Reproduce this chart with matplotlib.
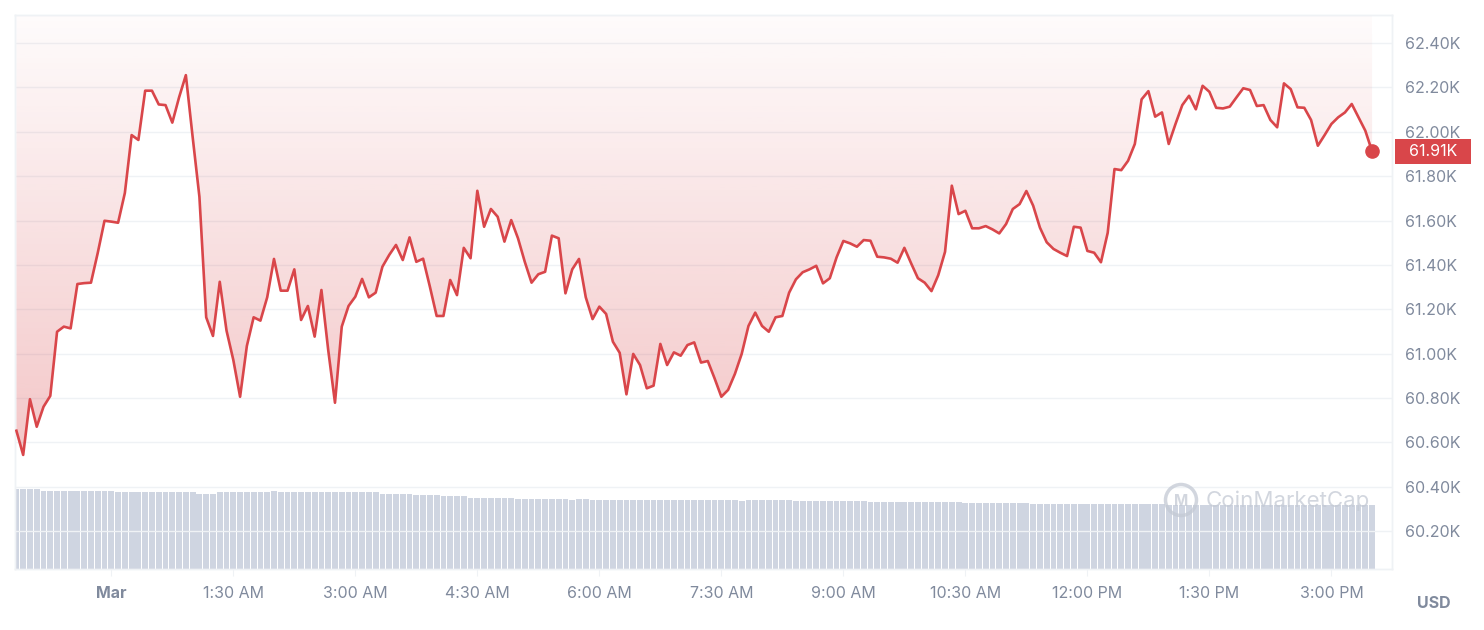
import numpy as np
import matplotlib.pyplot as plt
from matplotlib.patches import Polygon, Circle
from matplotlib.transforms import blended_transform_factory

plt.rcParams['font.family'] = ['Inter', 'DejaVu Sans']

# minutes after 00:00 Mar 1, one point every 5 minutes
minutes = np.arange(201) * 5 - 70

# BTC price (USD)
price = [60653, 60544, 60795, 60671, 60761, 60810, 61099, 61122, 61114, 61314,
         61318, 61320, 61454, 61599, 61595, 61590, 61724, 61985, 61963, 62185,
         62185, 62123, 62120, 62041, 62155, 62255, 61977, 61707, 61164, 61080,
         61324, 61104, 60972, 60806, 61035, 61164, 61149, 61254, 61427, 61284,
         61284, 61380, 61152, 61215, 61077, 61287, 61017, 60779, 61122, 61215,
         61257, 61337, 61254, 61275, 61392, 61445, 61490, 61422, 61524, 61414,
         61428, 61302, 61170, 61170, 61332, 61264, 61477, 61430, 61734, 61572,
         61652, 61617, 61505, 61602, 61520, 61414, 61320, 61358, 61369, 61532,
         61520, 61272, 61380, 61427, 61254, 61156, 61212, 61179, 61054, 61004,
         60817, 60999, 60949, 60844, 60856, 61044, 60949, 61006, 60991, 61039,
         61051, 60960, 60967, 60889, 60806, 60837, 60909, 60999, 61125, 61185,
         61125, 61099, 61164, 61170, 61275, 61335, 61367, 61380, 61396, 61317,
         61340, 61434, 61508, 61497, 61482, 61512, 61509, 61437, 61434, 61428,
         61410, 61477, 61407, 61340, 61320, 61282, 61354, 61459, 61757, 61629,
         61644, 61565, 61565, 61575, 61560, 61542, 61584, 61652, 61674, 61733,
         61667, 61568, 61502, 61472, 61455, 61440, 61572, 61568, 61463, 61455,
         61412, 61545, 61832, 61827, 61869, 61945, 62146, 62183, 62068, 62087,
         61945, 62035, 62120, 62162, 62101, 62207, 62180, 62108, 62105, 62113,
         62155, 62196, 62188, 62116, 62120, 62053, 62020, 62218, 62192, 62110,
         62108, 62053, 61937, 61985, 62035, 62065, 62087, 62125, 62065, 62005,
         61912]

# volume (billion USD)
volume = ([39.8] * 4 + [39.1] * 11 + [38.5] * 12 + [37.5] * 3 + [38.5] * 8 +
          [39.1] * 1 + [38.5] * 15 + [37.5] * 5 + [36.9] * 4 + [36.3] * 4 +
          [35.6] * 7 + [35.0] * 8 + [34.3] * 1 + [35.0] * 2 + [34.3] * 16 +
          [34.5] * 6 + [33.8] * 1 + [34.5] * 7 + [34.0] * 11 + [33.3] * 14 +
          [32.8] * 10 + [32.3] * 20 + [31.8] * 31)

tick_minutes = [0, 90, 180, 270, 360, 450, 540, 630, 720, 810, 900]
tick_labels = ['Mar', '1:30 AM', '3:00 AM', '4:30 AM', '6:00 AM', '7:30 AM',
               '9:00 AM', '10:30 AM', '12:00 PM', '1:30 PM', '3:00 PM']
price_ticks = [60200, 60400, 60600, 60800, 61000, 61200, 61400, 61600,
               61800, 62000, 62200, 62400]

red = '#d9464a'
grey = '#808a9d'
border = '#eff2f5'
mark = '#c3c9d4'

fig = plt.figure(figsize=(14.84, 6.3), dpi=100)
ax_vol = fig.add_axes([14.5 / 1484, 1 - 569 / 630, 1377.5 / 1484, 554 / 630])
ax = ax_vol.twinx()

xlim = (-71.4, 944.7)
ylim = (60030, 62526)

# volume bars
ax_vol.bar(minutes, volume, width=4.3, color='#cfd5e1', linewidth=0, zorder=2)
ax_vol.set_ylim(0, 277)
ax_vol.set_yticks([])
ax_vol.set_xlim(xlim)
ax_vol.set_xticks(tick_minutes)
ax_vol.set_xticklabels(tick_labels)
ax_vol.tick_params(axis='x', length=5, color=border, labelcolor=grey,
                   labelsize=11.5, pad=7)
ax_vol.get_xticklabels()[0].set_fontweight('bold')

# grid
for v in price_ticks:
    ax.axhline(v, color=border, lw=1, zorder=1)

# gradient fill between the line and the top
alpha = np.linspace(0.38, 0.02, 256)
grad = np.zeros((256, 1, 4))
grad[..., 0] = 217 / 255
grad[..., 1] = 70 / 255
grad[..., 2] = 74 / 255
grad[:, 0, 3] = alpha
im = ax.imshow(grad, extent=[xlim[0], xlim[1], ylim[0], ylim[1]],
               aspect='auto', origin='lower', zorder=2)
verts = [(minutes[0], ylim[1])] + list(zip(minutes, price)) + [(minutes[-1], ylim[1])]
clip = Polygon(verts, closed=True, facecolor='none', edgecolor='none',
               transform=ax.transData)
ax.add_patch(clip)
im.set_clip_path(clip)

ax.plot(minutes, price, color=red, lw=1.9, zorder=4, solid_joinstyle='round')
ax.plot(minutes[-1], price[-1], 'o', color=red, markersize=9.5, zorder=5,
        clip_on=False)

ax.set_xlim(xlim)
ax.set_ylim(ylim)
ax.set_yticks(price_ticks)
ax.set_yticklabels([f'{v / 1000:.2f}K' for v in price_ticks])
ax.tick_params(axis='y', length=0, labelcolor=grey, labelsize=11.5, pad=9)

for a in (ax, ax_vol):
    for s in a.spines.values():
        s.set_color(border)
        s.set_linewidth(1)

# current price tag
tr = blended_transform_factory(ax.transAxes, ax.transData)
ax.text(1.0295, price[-1], f'  {price[-1] / 1000:.2f}K  ', transform=tr,
        ha='center', va='center', color='white', fontsize=11.5,
        bbox=dict(boxstyle='square,pad=0.3', fc=red, ec='none'))

fig.text(1434 / 1484, 1 - 603 / 630, 'USD', ha='center', va='center',
         color=grey, fontsize=11.5, fontweight='bold')

# watermark (circle drawn in inches so it stays round)
fig.patches.append(Circle((11.81, 6.3 - 5.0), 0.155,
                          transform=fig.dpi_scale_trans, fill=False,
                          edgecolor=mark, lw=2.5, alpha=0.75, zorder=10))
fig.text(1181 / 1484, 1 - 501 / 630, 'M', ha='center', va='center',
         color=mark, alpha=0.75, fontsize=11, fontweight='bold', zorder=10)
fig.text(1206 / 1484, 1 - 501 / 630, 'CoinMarketCap', ha='left', va='center',
         color=mark, alpha=0.75, fontsize=16, zorder=10)

fig.savefig('out.png', dpi=100)
